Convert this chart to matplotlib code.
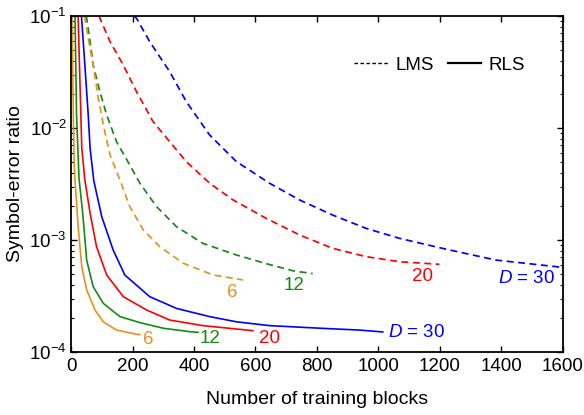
import matplotlib
matplotlib.use("Agg")
import matplotlib.pyplot as plt
from matplotlib.lines import Line2D
from matplotlib.ticker import LogLocator, FixedLocator

plt.rcParams["font.family"] = "Liberation Sans"
plt.rcParams["mathtext.fontset"] = "custom"
plt.rcParams["mathtext.rm"] = "Liberation Sans"
plt.rcParams["mathtext.it"] = "Liberation Sans:italic"

BLUE = "#0000FF"
RED = "#FF0000"
GREEN = "#148A14"
ORANGE = "#E8901C"

# LMS (dashed) curves
lms30_x = [205, 213, 256, 321, 375, 451, 538, 646, 743, 851, 960, 1068, 1225, 1382, 1600]
lms30_y = [0.1, 0.0955, 0.059, 0.0318, 0.01718, 0.00865, 0.00501, 0.00321, 0.00228,
           0.00167, 0.00127, 0.001035, 0.000822, 0.000662, 0.000569]
lms20_x = [90, 94, 127, 170, 213, 267, 321, 375, 451, 527, 635, 743, 851, 960, 1068, 1198]
lms20_y = [0.1, 0.0955, 0.059, 0.0365, 0.0211, 0.01138, 0.00755, 0.00501, 0.00321,
           0.00228, 0.00156, 0.00111, 0.000843, 0.00071, 0.00064, 0.000607]
lms12_x = [48, 51, 62, 72, 94, 116, 148, 191, 224, 278, 343, 429, 538, 646, 722, 786]
lms12_y = [0.1, 0.0955, 0.059, 0.0365, 0.0211, 0.01306, 0.00755, 0.00468, 0.00321,
           0.00199, 0.001315, 0.000933, 0.000735, 0.000603, 0.000531, 0.000501]
lms6_x = [43, 45, 62, 72, 89, 105, 127, 159, 191, 235, 289, 365, 462, 559]
lms6_y = [0.1, 0.0955, 0.0513, 0.0365, 0.0184, 0.01064, 0.00574, 0.00344, 0.00199,
          0.00123, 0.00087, 0.00062, 0.000487, 0.00044]

# RLS (solid) curves
rls30_x = [34, 45, 56, 62, 74, 100, 137, 175, 256, 343, 451, 538, 646, 830, 938, 1014]
rls30_y = [0.1, 0.0365, 0.01306, 0.0066, 0.00339, 0.001614, 0.000815, 0.000487,
           0.000312, 0.000245, 0.000207, 0.000186, 0.000172, 0.000162, 0.000157, 0.000151]
rls20_x = [23, 29, 35, 45, 62, 83, 116, 170, 246, 321, 429, 592]
rls20_y = [0.1, 0.0259, 0.0066, 0.00344, 0.00174, 0.000871, 0.000487, 0.000312,
           0.000237, 0.000193, 0.000172, 0.000155]
rls12_x = [13, 18, 26, 38, 51, 72, 105, 159, 224, 300, 386, 413]
rls12_y = [0.1, 0.01306, 0.00355, 0.00174, 0.00066, 0.000383, 0.000272, 0.000207,
           0.000183, 0.000163, 0.000152, 0.00015]
rls6_x = [3, 7.5, 10, 13, 24, 35, 51, 78, 105, 148, 213, 224]
rls6_y = [0.1, 0.01306, 0.005, 0.00344, 0.00123, 0.000578, 0.000358, 0.000237,
          0.000186, 0.000157, 0.000144, 0.000143]

x_ticks = [0, 200, 400, 600, 800, 1000, 1200, 1400, 1600]

fig = plt.figure(figsize=(5.84, 4.15), dpi=100)
ax = fig.add_axes([0.1216, 0.1518, 0.8424, 0.8096])

dash = (4, 2.6)
for xs, ys, c in [(lms30_x, lms30_y, BLUE), (lms20_x, lms20_y, RED),
                  (lms12_x, lms12_y, GREEN), (lms6_x, lms6_y, ORANGE)]:
    ax.plot(xs, ys, color=c, lw=1.25, dashes=dash)

for xs, ys, c in [(rls30_x, rls30_y, BLUE), (rls20_x, rls20_y, RED),
                  (rls12_x, rls12_y, GREEN), (rls6_x, rls6_y, ORANGE)]:
    ax.plot(xs, ys, color=c, lw=1.2)

ax.set_yscale("log")
ax.set_xlim(0, 1600)
ax.set_ylim(1e-4, 1e-1)
ax.xaxis.set_major_locator(FixedLocator(x_ticks))
ax.yaxis.set_major_locator(LogLocator(base=10, numticks=10))
ax.yaxis.set_minor_locator(LogLocator(base=10, subs=range(2, 10), numticks=10))
ax.tick_params(which="both", direction="in", top=True, right=True, labelsize=13.5)
ax.tick_params(which="major", length=4, width=1)
ax.tick_params(which="minor", length=2.5, width=0.8)
ax.tick_params(axis="x", pad=4)
ax.tick_params(axis="y", pad=3)
for s in ax.spines.values():
    s.set_linewidth(1.3)

ax.set_xlabel("Number of training blocks", fontsize=14, labelpad=12)
ax.set_ylabel("Symbol-error ratio", fontsize=14, labelpad=4)

# curve labels
fs = 13.5
ax.text(526, 3.37e-4, "6", color=ORANGE, fontsize=fs, ha="center", va="center")
ax.text(727, 3.96e-4, "12", color=GREEN, fontsize=fs, ha="center", va="center")
ax.text(1142, 4.68e-4, "20", color=RED, fontsize=fs, ha="center", va="center")
ax.text(1480, 4.49e-4, r"$D$ = 30", color=BLUE, fontsize=fs, ha="center", va="center")
ax.text(250, 1.28e-4, "6", color=ORANGE, fontsize=fs, ha="center", va="center")
ax.text(451, 1.33e-4, "12", color=GREEN, fontsize=fs, ha="center", va="center")
ax.text(646, 1.31e-4, "20", color=RED, fontsize=fs, ha="center", va="center")
ax.text(1123, 1.48e-4, r"$D$ = 30", color=BLUE, fontsize=fs, ha="center", va="center")

handles = [Line2D([], [], color="black", lw=1.0, dashes=(2.5, 1.8)),
           Line2D([], [], color="black", lw=1.6)]
ax.legend(handles, ["LMS", "RLS"], ncol=2, frameon=False, fontsize=13.5,
          handlelength=1.8, handletextpad=0.39, columnspacing=0.72,
          borderpad=0, borderaxespad=0,
          loc="center right", bbox_to_anchor=(0.923, 0.854))

fig.savefig("out.png", dpi=100)
